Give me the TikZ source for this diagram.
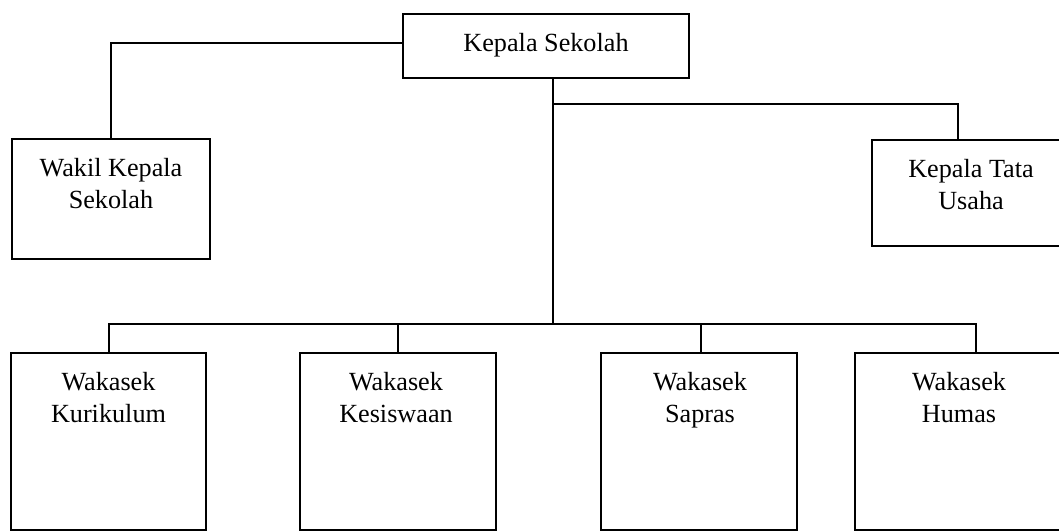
\documentclass[tikz,border=0pt]{standalone}
\usepackage{fontspec}
\setmainfont{Liberation Serif}
\begin{document}
\begin{tikzpicture}[x=1pt,y=-1pt,
  box/.style={draw, line width=1.3pt, rectangle, inner sep=0pt, outer sep=0pt, anchor=north west},
  lbl/.style={anchor=north, inner sep=0pt, align=center, font=\fontsize{26.2}{32}\selectfont},
  conn/.style={line width=1.1pt}]
\clip (0,0) rectangle (1059,532);
% boxes
\node[box, minimum width=286pt, minimum height=64pt] (ks) at (403,14) {};
\node[lbl] (ksT) at (546,33) {Kepala Sekolah};
\node[box, minimum width=198pt, minimum height=120pt] (wk) at (12,139) {};
\node[lbl] (wkT) at (111,158) {Wakil Kepala\\Sekolah};
\node[box, minimum width=198pt, minimum height=106pt] (tu) at (872,140) {};
\node[lbl] (tuT) at (971,159) {Kepala Tata\\Usaha};
\node[box, minimum width=195pt, minimum height=177pt] (kur) at (11,353) {};
\node[lbl] (kurT) at (108.5,372) {Wakasek\\Kurikulum};
\node[box, minimum width=196pt, minimum height=177pt] (kes) at (300,353) {};
\node[lbl] (kesT) at (396,372) {Wakasek\\Kesiswaan};
\node[box, minimum width=196pt, minimum height=177pt] (sap) at (601,353) {};
\node[lbl] (sapT) at (700,372) {Wakasek\\Sapras};
\node[box, minimum width=210pt, minimum height=177pt] (hum) at (855,353) {};
\node[lbl] (humT) at (959,372) {Wakasek\\Humas};
% junctions
\coordinate (jL) at (111,43);
\coordinate (t1) at (553,104);
\coordinate (t2) at (553,324);
\coordinate (jR) at (958,104);
\coordinate (b1) at (109,324);
\coordinate (b2) at (398,324);
\coordinate (b3) at (701,324);
\coordinate (b4) at (976,324);
% connectors
\draw[conn] (jL -| ks.west) -- (jL) -- (jL |- wk.north);
\draw[conn] (t1 |- ks.south) -- (t2);
\draw[conn] (t1) -- (jR) -- (jR |- tu.north);
\draw[conn] (b1 |- kur.north) -- (b1) -- (b4) -- (b4 |- hum.north);
\draw[conn] (b2) -- (b2 |- kes.north);
\draw[conn] (b3) -- (b3 |- sap.north);
\end{tikzpicture}
\end{document}
